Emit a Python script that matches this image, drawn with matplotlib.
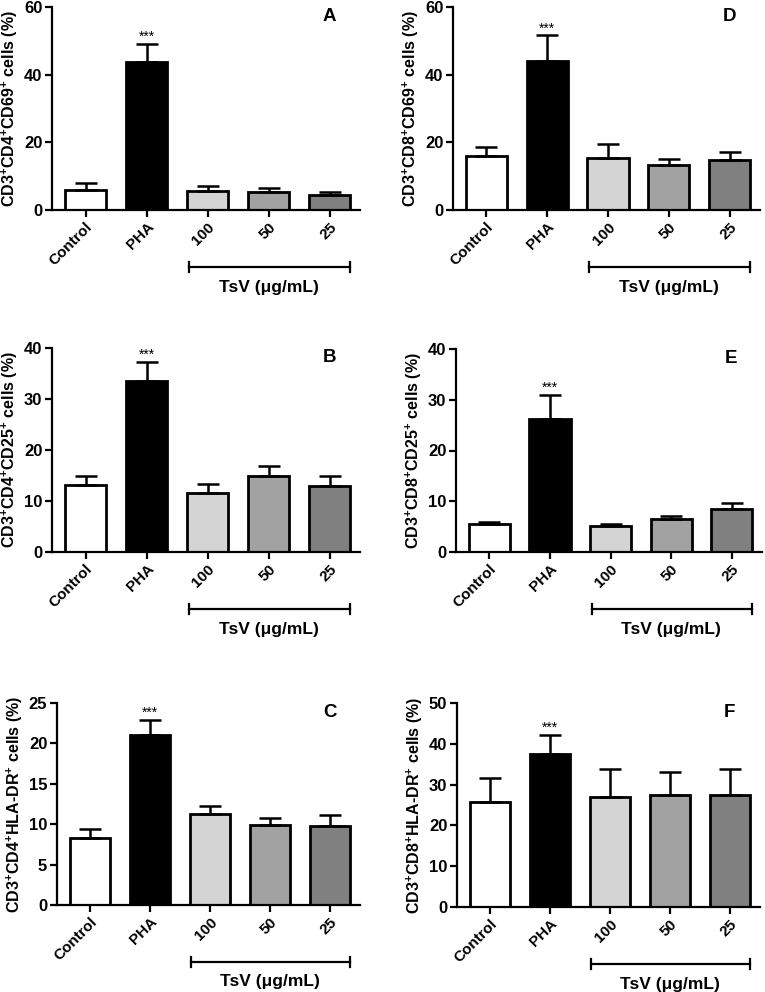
import matplotlib
matplotlib.use('Agg')
import matplotlib.pyplot as plt
import matplotlib.transforms as mtransforms
import numpy as np

plt.rcParams['font.family'] = ['Liberation Sans', 'DejaVu Sans']
plt.rcParams['font.weight'] = 'bold'
plt.rcParams['mathtext.fontset'] = 'custom'
plt.rcParams['mathtext.rm'] = 'Liberation Sans:weight=bold'
plt.rcParams['mathtext.bf'] = 'Liberation Sans:weight=bold'
plt.rcParams['mathtext.default'] = 'bf'

# data (mean, upper SEM)
groups = ['Control', 'PHA', '100', '50', '25']
bar_colors = ['#ffffff', '#000000', '#d4d4d4', '#a2a2a2', '#808080']

a_mean = [5.9, 43.6, 5.7, 5.4, 4.4]
a_err = [2.1, 5.4, 1.5, 1.0, 0.9]
b_mean = [13.1, 33.6, 11.6, 15.0, 13.0]
b_err = [1.9, 3.6, 1.8, 1.9, 1.9]
c_mean = [8.3, 21.0, 11.3, 9.9, 9.8]
c_err = [1.1, 1.9, 1.0, 0.9, 1.3]
d_mean = [15.9, 44.1, 15.4, 13.3, 14.7]
d_err = [2.6, 7.5, 4.1, 1.7, 2.3]
e_mean = [5.5, 26.3, 5.1, 6.6, 8.5]
e_err = [0.5, 4.6, 0.4, 0.4, 1.2]
f_mean = [25.7, 37.4, 26.9, 27.5, 27.5]
f_err = [5.9, 4.8, 6.9, 5.7, 6.3]

ylabels = {
    'A': 'CD3$^{+}$CD4$^{+}$CD69$^{+}$ cells (%)',
    'B': 'CD3$^{+}$CD4$^{+}$CD25$^{+}$ cells (%)',
    'C': 'CD3$^{+}$CD4$^{+}$HLA-DR$^{+}$ cells (%)',
    'D': 'CD3$^{+}$CD8$^{+}$CD69$^{+}$ cells (%)',
    'E': 'CD3$^{+}$CD8$^{+}$CD25$^{+}$ cells (%)',
    'F': 'CD3$^{+}$CD8$^{+}$HLA-DR$^{+}$ cells (%)',
}

panels = [
    ('A', a_mean, a_err, 60, 20, [52, 7, 360, 210]),
    ('B', b_mean, b_err, 40, 10, [52, 348, 360, 552]),
    ('C', c_mean, c_err, 25, 5, [57, 703, 360, 905]),
    ('D', d_mean, d_err, 60, 20, [453, 7, 760, 210]),
    ('E', e_mean, e_err, 40, 10, [456, 349, 762, 552]),
    ('F', f_mean, f_err, 50, 10, [457, 703, 760, 907]),
]

W, H = 765, 992
fig = plt.figure(figsize=(W / 100, H / 100), dpi=100)
shift = mtransforms.ScaledTranslation(4 / 72, -2 / 72, fig.dpi_scale_trans)

for letter, mean, err, ymax, step, box in panels:
    x0, y0, x1, y1 = box
    ax = fig.add_axes([x0 / W, 1 - y1 / H, (x1 - x0) / W, (y1 - y0) / H])
    x = np.arange(len(groups))
    ax.bar(x, mean, width=0.68, color=bar_colors, edgecolor='black',
           linewidth=2.0, zorder=2)
    ax.errorbar(x, mean, yerr=[np.zeros(len(err)), err], fmt='none',
                ecolor='black', elinewidth=1.8, capsize=8, capthick=1.8,
                zorder=3)
    ax.text(1, mean[1] + err[1], '***', ha='center', va='bottom',
            fontsize=10, fontweight='normal')
    ax.set_xlim(-0.55, 4.5)
    ax.set_ylim(0, ymax)
    ax.set_yticks(np.arange(0, ymax + 0.1, step))
    ax.set_xticks(x)
    ax.set_xticklabels(groups, rotation=45, ha='right',
                       rotation_mode='anchor', fontsize=11,
                       fontweight='bold')
    for lab in ax.get_xticklabels():
        lab.set_transform(lab.get_transform() + shift)
    for lab in ax.get_yticklabels():
        lab.set_fontsize(12)
        lab.set_fontweight('bold')
    ax.set_ylabel(ylabels[letter], fontsize=11.5, fontweight='bold',
                  labelpad=3)
    ax.spines['top'].set_visible(False)
    ax.spines['right'].set_visible(False)
    ax.spines['left'].set_linewidth(1.6)
    ax.spines['bottom'].set_linewidth(1.6)
    ax.tick_params(width=1.6, length=5, direction='out', pad=2)
    ax.text(0.9, 0.955, letter, transform=ax.transAxes, ha='center',
            va='center', fontsize=13.5, fontweight='bold')
    # TsV bracket
    trans = ax.get_xaxis_transform()
    ax.plot([1.69, 4.33], [-0.28, -0.28], transform=trans, color='black',
            lw=1.6, clip_on=False)
    for xe in (1.69, 4.33):
        ax.plot([xe, xe], [-0.255, -0.305], transform=trans, color='black',
                lw=1.6, clip_on=False)
    ax.text(3.0, -0.38, 'TsV (\u03bcg/mL)', transform=trans, ha='center',
            va='center', fontsize=12.5, fontweight='bold')

fig.savefig('out.png', dpi=100)
